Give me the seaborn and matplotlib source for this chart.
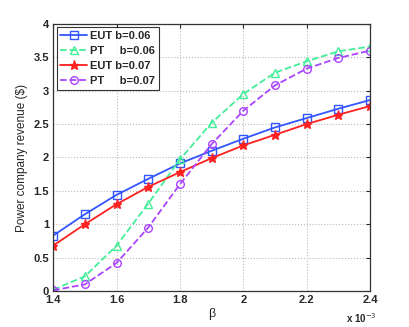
import numpy as np
import pandas as pd
import matplotlib
matplotlib.use('Agg')
import matplotlib.pyplot as plt
import seaborn as sns

# beta (x 10^-3) i prihod za svaku seriju
beta = [1.4, 1.5, 1.6, 1.7, 1.8, 1.9, 2.0, 2.1, 2.2, 2.3, 2.4]
eut_006 = [0.83, 1.15, 1.44, 1.68, 1.91, 2.10, 2.28, 2.45, 2.59, 2.73, 2.86]
pt_006 = [0.02, 0.22, 0.68, 1.31, 1.97, 2.52, 2.95, 3.27, 3.44, 3.59, 3.66]
eut_007 = [0.68, 1.00, 1.30, 1.56, 1.78, 1.99, 2.18, 2.34, 2.50, 2.64, 2.77]
pt_007 = [0.01, 0.10, 0.42, 0.95, 1.60, 2.20, 2.70, 3.08, 3.33, 3.49, 3.60]

labels = ['EUT b=0.06', 'PT     b=0.06', 'EUT b=0.07', 'PT     b=0.07']
series = [eut_006, pt_006, eut_007, pt_007]
colors = ['#3355ff', '#44ee99', '#ff2020', '#aa44ff']
markers = ['s', '^', '*', 'o']
styles = ['-', '--', '-', '--']

sns.set_style('white')
plt.rcParams['font.family'] = ['Liberation Sans', 'DejaVu Sans']

fig = plt.figure(figsize=(4.09, 3.27), dpi=100)
ax = fig.add_axes([0.13, 0.11, 0.775, 0.817])

for i in range(4):
    df = pd.DataFrame({'beta': beta, 'rev': series[i]})
    filled = markers[i] == '*'
    sns.lineplot(data=df, x='beta', y='rev', ax=ax, color=colors[i],
                 linestyle=styles[i], linewidth=1.3, marker=markers[i],
                 markersize=5.5 if not filled else 6.5,
                 markerfacecolor=colors[i] if filled else 'none',
                 markeredgecolor=colors[i], markeredgewidth=1.0,
                 label=labels[i])

ax.set_xlim(1.4, 2.4)
ax.set_ylim(0, 4)
ax.set_xticks([1.4, 1.6, 1.8, 2.0, 2.2, 2.4])
ax.set_xticklabels(['1.4', '1.6', '1.8', '2', '2.2', '2.4'])
ax.set_yticks([0, 0.5, 1, 1.5, 2, 2.5, 3, 3.5, 4])
ax.set_yticklabels(['0', '0.5', '1', '1.5', '2', '2.5', '3', '3.5', '4'])
ax.tick_params(direction='in', length=3, labelsize=8, width=0.8, pad=3,
               top=True, right=True)
for t in ax.get_xticklabels() + ax.get_yticklabels():
    t.set_fontweight('bold')
ax.grid(True, linestyle=':', color='#bbbbbb', linewidth=0.8)
for s in ax.spines.values():
    s.set_color('#333333')
    s.set_linewidth(0.9)

ax.set_xlabel('β', fontsize=9, labelpad=2)
ax.set_ylabel('Power company revenue ($)', fontsize=8.5, labelpad=4)
ax.text(1.02, -0.075, r'x 10$^{-3}$', transform=ax.transAxes, ha='right',
        va='top', fontsize=7, fontweight='bold')

leg = ax.legend(loc='upper left', frameon=True, fancybox=False,
                borderpad=0.35, labelspacing=0.45, handlelength=2.4,
                handletextpad=0.3, borderaxespad=0.3,
                prop={'weight': 'bold', 'size': 8})
leg.get_frame().set_edgecolor('black')
leg.get_frame().set_linewidth(0.8)

fig.savefig('out.png', dpi=100)
